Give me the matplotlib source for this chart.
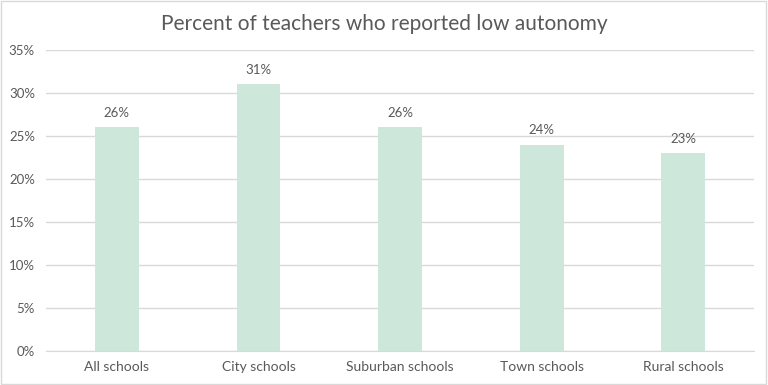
import matplotlib.pyplot as plt
from matplotlib.patches import Rectangle
from matplotlib.ticker import FuncFormatter

categories = ['All schools', 'City schools', 'Suburban schools', 'Town schools', 'Rural schools']
values = [26, 31, 26, 24, 23]

plt.rcParams['font.family'] = ['Lato', 'DejaVu Sans']
text_color = '#595959'

fig = plt.figure(figsize=(7.68, 3.85), dpi=100)
ax = fig.add_axes([0.060, 0.088, 0.922, 0.782])

x = range(len(categories))
ax.bar(x, values, width=0.31, color='#CDE8DA', zorder=3)
for xi, v in zip(x, values):
    ax.text(xi, v + 1.0, f'{v}%', ha='center', va='bottom', fontsize=9.5, color=text_color)

ax.set_xlim(-0.5, len(categories) - 0.5)
ax.set_ylim(0, 35)
ax.set_yticks(range(0, 36, 5))
ax.yaxis.set_major_formatter(FuncFormatter(lambda v, p: f'{int(v)}%'))
ax.set_xticks(list(x))
ax.set_xticklabels(categories)
ax.grid(axis='y', color='#D9D9D9', linewidth=1, zorder=0)
for s in ['top', 'right', 'left']:
    ax.spines[s].set_visible(False)
ax.spines['bottom'].set_color('#D9D9D9')
ax.tick_params(axis='both', length=0, labelsize=9.5, colors=text_color)
ax.tick_params(axis='x', labelsize=10, pad=7)
ax.tick_params(axis='y', pad=8)

fig.text(0.5, 0.938, 'Percent of teachers who reported low autonomy', ha='center', va='center',
         fontsize=15, color=text_color)

fig.patches.append(Rectangle((0.001, 0.002), 0.997, 0.995, transform=fig.transFigure,
                             fill=False, edgecolor='#D9D9D9', linewidth=1))

fig.savefig('out.png', dpi=100)
